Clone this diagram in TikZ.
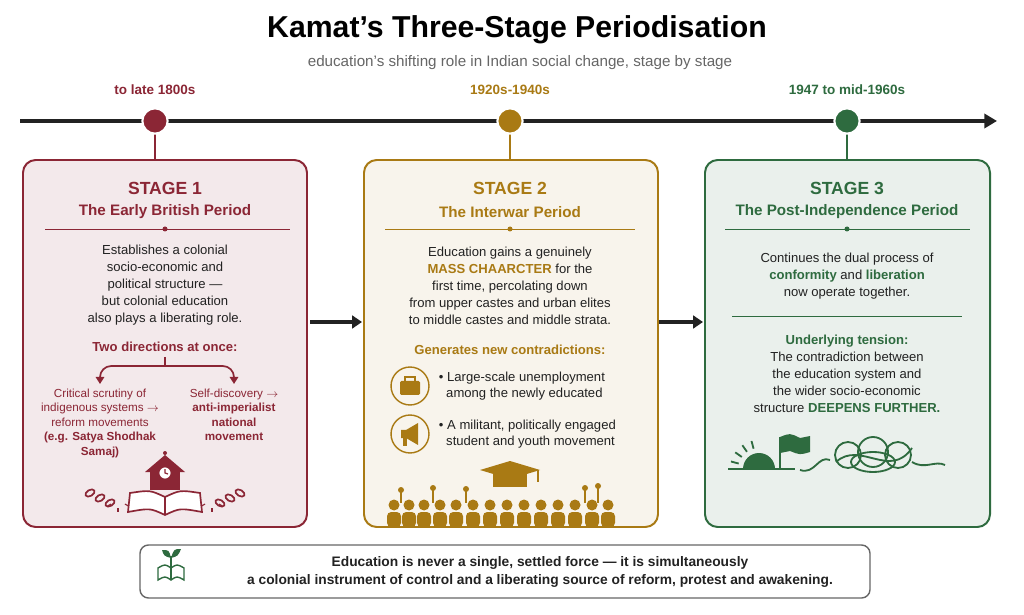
\documentclass[tikz,border=0pt]{standalone}
\usepackage{fontspec}
\setmainfont{Liberation Sans}
\usetikzlibrary{arrows.meta,calc,positioning}
\definecolor{maroon}{HTML}{8B2635}
\definecolor{gold}{HTML}{A97A14}
\definecolor{forest}{HTML}{2E6B3F}
\definecolor{ink}{HTML}{222222}

\begin{document}
\begin{tikzpicture}[x=0.025cm,y=-0.025cm,font=\fontsize{9.3}{11.2}\selectfont,
      stagebox/.style={draw,line width=1.4pt,rounded corners=9pt},
      stagehead/.style={font=\fontsize{12.5}{14}\selectfont\bfseries},
      stagename/.style={font=\fontsize{10.8}{12}\selectfont\bfseries},
      body/.style={align=center,text=ink},
      dot/.style={circle,draw=white,line width=1.5pt},
      flow/.style={-{Triangle[length=7pt,width=9pt]},line width=3.5pt,draw=ink}]
      \useasboundingbox (0,0) rectangle (1024,615);
      \fill[white] (0,0) rectangle (1024,615);

      % title
      \node[font=\fontsize{21.5}{24}\selectfont\bfseries] (title) at (517,30) {Kamat's Three-Stage Periodisation};
      \node[text=black!60,font=\fontsize{10.8}{12}\selectfont] (sub) at (520,63) {education's shifting role in Indian social change, stage by stage};

      % timeline
      \coordinate (tl0) at (20,121);
      \coordinate (tl1) at (997,121);
      \draw[line width=3pt,draw=ink,-{Triangle[length=9pt,width=10pt]}] (tl0) -- (tl1);

      % boxes
      \draw[stagebox,draw=maroon,fill=maroon!10] (23,160) rectangle (307,527);
      \draw[stagebox,draw=gold,fill=gold!8] (364,160) rectangle (658,527);
      \draw[stagebox,draw=forest,fill=forest!10] (705,160) rectangle (990,527);

      \foreach \x/\c/\d/\n in {155/maroon/to late 1800s/d1, 510/gold/1920s-1940s/d2, 847/forest/1947 to mid-1960s/d3}{
        \draw[\c,line width=1.4pt] (\x,121) -- (\x,160);
        \node[dot,fill=\c,minimum size=18pt] (\n) at (\x,121) {};
        \node[text=\c,font=\fontsize{9.6}{11}\selectfont\bfseries] at (\x,90) {\d};
      }

      % connectors
      \coordinate (a1) at (310,322);
      \coordinate (a2) at (362,322);
      \coordinate (a3) at (659,322);
      \coordinate (a4) at (703,322);
      \draw[flow] (a1) -- (a2);
      \draw[flow] (a3) -- (a4);

      % stage 1
      \node[stagehead,text=maroon] (s1) at (165,188) {STAGE 1};
      \node[stagename,text=maroon] (n1) at (165,212) {The Early British Period};
      \draw[maroon,line width=0.6pt] (45,229) -- (290,229);
      \fill[maroon] (165,229) circle (2.5);
      \node[body,font=\fontsize{9.3}{12}\selectfont] (b1) at (165,285) {Establishes a colonial\\socio-economic and\\political structure ---\\but colonial education\\also plays a liberating role.};
      \node[text=maroon,font=\fontsize{9.3}{11}\selectfont\bfseries] (two) at (165,347) {Two directions at once:};
      \coordinate (fork) at (165,366);
      \coordinate (l1) at (100,384);
      \coordinate (r1) at (234,384);
      \draw[maroon,line width=1.2pt] (two.south) -- (fork);
      \draw[maroon,line width=1.2pt,-{Triangle[length=5pt,width=6pt]},rounded corners=8pt] (fork) -- (100,366) -- (l1);
      \draw[maroon,line width=1.2pt,-{Triangle[length=5pt,width=6pt]},rounded corners=8pt] (fork) -- (234,366) -- (r1);
      \node[text=maroon,align=center,font=\fontsize{8.3}{10.3}\selectfont,below=0pt of l1] (left1) {Critical scrutiny of\\indigenous systems $\rightarrow$\\reform movements\\\textbf{(e.g. Satya Shodhak}\\\textbf{Samaj)}};
      \node[text=maroon,align=center,font=\fontsize{8.3}{10.3}\selectfont,below=0pt of r1] (right1) {Self-discovery $\rightarrow$\\\textbf{anti-imperialist}\\\textbf{national}\\\textbf{movement}};
      % icon: school, book, chains
      \begin{scope}[maroon,line width=1.2pt]
        \fill (150,470) rectangle (180,490);
        \fill (145,472) -- (165,455) -- (185,472) -- cycle;
        \fill (165,453) circle (2);
        \draw[fill=white] (165,473) circle (6.5);
        \draw[line width=0.8pt] (165,469) -- (165,473) -- (168,474);
        \draw[fill=white] (165,515) .. controls (150,508) .. (128,512) -- (130,493) .. controls (150,490) .. (165,497) .. controls (180,490) .. (200,493) -- (202,512) .. controls (180,508) .. (165,515) -- cycle;
        \draw (165,497) -- (165,515);
        \foreach \i in {0,1,2}{
          \draw[rotate around={30:(90+10*\i,493+5*\i)}] (90+10*\i,493+5*\i) ellipse (5 and 3);
          \draw[rotate around={-30:(240-10*\i,493+5*\i)}] (240-10*\i,493+5*\i) ellipse (5 and 3);
        }
        \foreach \a in {-60,0,60}{
          \draw[line width=0.8pt] ($(118,500)+(\a+90:8)$) -- ++(\a+90:4);
          \draw[line width=0.8pt] ($(212,500)+(\a+90:8)$) -- ++(\a+90:4);
        }
      \end{scope}

      % stage 2
      \node[stagehead,text=gold] (s2) at (510,188) {STAGE 2};
      \node[stagename,text=gold] (n2) at (510,212) {The Interwar Period};
      \draw[gold,line width=0.6pt] (385,229) -- (635,229);
      \fill[gold] (510,229) circle (2.5);
      \node[body,font=\fontsize{9.3}{12}\selectfont] (b2) at (510,286) {Education gains a genuinely\\\textcolor{gold}{\textbf{MASS CHAARCTER}} for the\\first time, percolating down\\from upper castes and urban elites\\to middle castes and middle strata.};
      \node[text=gold,font=\fontsize{9.3}{11}\selectfont\bfseries] (gen) at (510,350) {Generates new contradictions:};
      \node[circle,draw=gold,line width=1pt,minimum size=27pt] (ic1) at (410,386) {};
      \node[circle,draw=gold,line width=1pt,minimum size=27pt] (ic2) at (410,434) {};
      \fill[gold,rounded corners=1pt] (400,381) rectangle (420,395);
      \draw[gold,line width=1pt] (405,381) -- (405,377) -- (415,377) -- (415,381);
      \fill[gold] (401,430) rectangle (406,438) -- (406,430) -- (418,423) -- (418,445) -- (406,438);
      \fill[gold] (403,438) rectangle (407,446);
      \node[body,align=left,anchor=west] (c1) at (434,386) {\textbullet\ Large-scale unemployment\\\ \ among the newly educated};
      \node[body,align=left,anchor=west] (c2) at (434,434) {\textbullet\ A militant, politically engaged\\\ \ student and youth movement};
      % crowd
      \begin{scope}[gold]
        \fill (480,470) -- (510,461) -- (540,470) -- (510,479) -- cycle;
        \fill (493,474) rectangle (527,487);
        \draw[line width=1pt] (538,470) -- (538,482);
        \foreach \x in {394,409,424,440,456,473,490,507,524,541,558,575,592,608}{
          \fill (\x,505) circle (5.5);
          \fill[rounded corners=3pt] (\x-7,512) rectangle (\x+7,527);
        }
        \foreach \x/\h in {401/490,433/488,466/489,585/488,598/486}{
          \fill (\x,\h) circle (3);
          \draw[line width=1.5pt] (\x,\h) -- (\x,503);
        }
      \end{scope}

      % stage 3
      \node[stagehead,text=forest] (s3) at (847,188) {STAGE 3};
      \node[stagename,text=forest] (n3) at (847,212) {The Post-Independence Period};
      \draw[forest,line width=0.6pt] (725,229) -- (970,229);
      \fill[forest] (847,229) circle (2.5);
      \node[body,font=\fontsize{9.3}{12}\selectfont] (b3) at (847,276) {Continues the dual process of\\\textcolor{forest}{\textbf{conformity}} and \textcolor{forest}{\textbf{liberation}}\\now operate together.};
      \draw[forest,line width=0.6pt] (732,316) -- (962,316);
      \node[body,font=\fontsize{9.3}{12}\selectfont] (b4) at (847,374) {\textcolor{forest}{\textbf{Underlying tension:}}\\The contradiction between\\the education system and\\the wider socio-economic\\structure \textcolor{forest}{\textbf{DEEPENS FURTHER.}}};
      \begin{scope}[forest,line width=1.3pt]
        \fill (743,469) arc (180:360:16) -- cycle;
        \draw (728,469) -- (795,469);
        \foreach \a in {195,215,235,255}{\draw ($(759,469)+(\a:21)$) -- ++(\a:8);}
        \draw (780,437) -- (780,469);
        \fill (780,437) .. controls (790,433) .. (800,438) -- (810,436) -- (810,452) .. controls (800,455) .. (790,451) -- (780,453) -- cycle;
        \draw (800,470) .. controls (815,475) and (818,455) .. (830,460);
        \draw (848,455) circle (13);
        \draw (873,452) circle (15);
        \draw (898,455) circle (13);
        \draw (873,462) ellipse (22 and 10);
        \draw (836,462) .. controls (860,440) and (890,480) .. (912,448);
        \draw (912,462) .. controls (925,470) and (935,460) .. (945,465);
      \end{scope}

      % bottom note
      \draw[black!60,line width=1pt,rounded corners=6pt,fill=white] (140,545) rectangle (870,598);
      \begin{scope}[forest,line width=1pt]
        \draw (158,580) .. controls (165,576) .. (171,580) .. controls (177,576) .. (184,580) -- (184,568) .. controls (177,564) .. (171,568) .. controls (165,564) .. (158,568) -- cycle;
        \draw (171,568) -- (171,580);
        \draw (171,568) -- (171,556);
        \fill (171,558) .. controls (164,556) .. (162,550) .. controls (169,550) .. (171,558);
        \fill (171,558) .. controls (178,556) .. (181,549) .. controls (174,549) .. (171,558);
      \end{scope}
      \node[align=center,font=\fontsize{9.8}{12.8}\selectfont\bfseries,text=ink] (note) at (540,572) {Education is never a single, settled force --- it is simultaneously\\a colonial instrument of control and a liberating source of reform, protest and awakening.};
\end{tikzpicture}
\end{document}
